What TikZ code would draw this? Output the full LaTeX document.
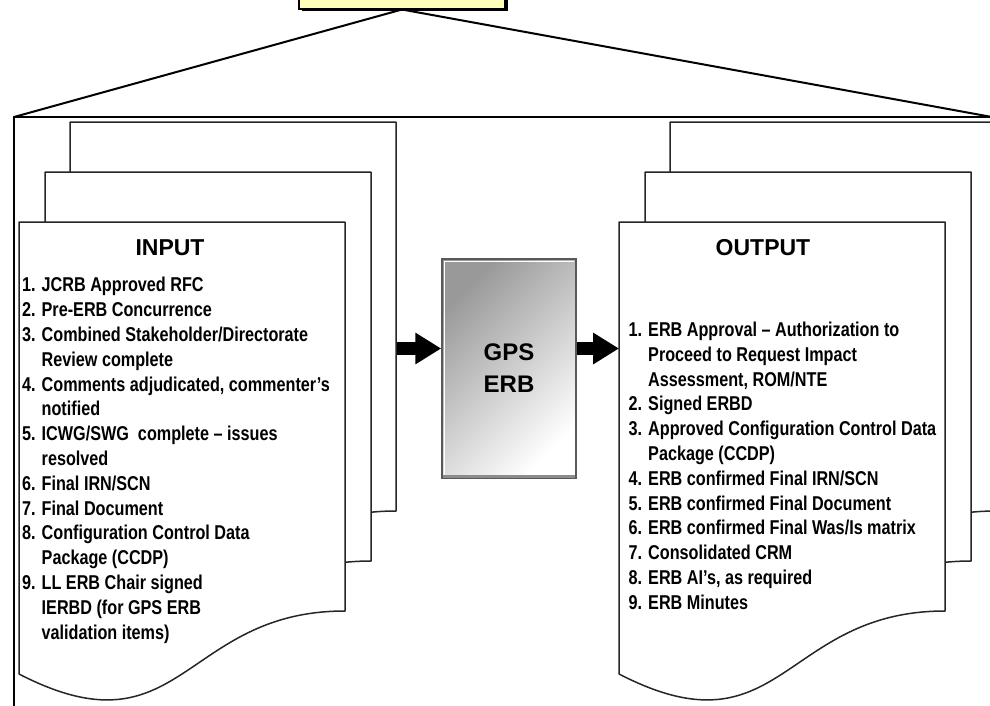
\documentclass[tikz,border=0pt]{standalone}
\usepackage{fontspec}
\setmainfont{Liberation Sans}
\newfontfamily\narrowfont[FakeStretch=0.81]{Liberation Sans}
\usetikzlibrary{positioning, arrows.meta, shadows}

\definecolor{notepale}{RGB}{255,255,187}
\newcommand{\lnum}[1]{\makebox[19.5pt][l]{#1}}
\newcommand{\lcont}{\hspace*{19.5pt}}
% one sheet with a wavy foot, #1/#2 = top left corner
\newcommand{\docpage}[2]{%
  \filldraw[pageedge] (#1,#2) -- ++(326,0) -- ++(0,389)
    .. controls +(-163,0) and +(163,84) .. ++(-326,63) -- cycle;}

\begin{document}
\begin{tikzpicture}
    [x=1pt, y=-1pt,
     pageedge/.style={draw=black!85, fill=white, line width=1.5pt, line join=round},
     frameline/.style={draw=black, line width=1.2pt},
     zoomline/.style={draw=black, line width=2pt},
     notebox/.style={draw=black, line width=2pt, fill=notepale, minimum width=206pt,
                     minimum height=33pt, inner sep=0pt,
                     drop shadow={shadow xshift=2.5pt, shadow yshift=-2.5pt, fill=black, opacity=1}},
     erbbox/.style={draw=black!65, line width=1.5pt, top color=black!40, bottom color=white,
                    shading angle=45, minimum width=134pt, minimum height=219pt, inner sep=0pt,
                    align=center, font=\bfseries\fontsize{24}{32}\selectfont},
     headtxt/.style={anchor=base, inner sep=0pt, font=\bfseries\fontsize{23}{27}\selectfont},
     itemtxt/.style={anchor=base west, inner sep=0pt,
                     font=\narrowfont\bfseries\fontsize{20}{24}\selectfont},
     bigarrow/.style={draw=black, line width=13pt, -{Triangle[length=26pt, width=30pt]}}]
    \useasboundingbox (0,0) rectangle (990,705);
    \clip (0,0) rectangle (990,705);

    \coordinate (frame-nw) at (14,117);
    \coordinate (frame-ne) at (992,117);
    \draw[frameline] (frame-nw) rectangle (1000,720);

    \node[notebox] (note) at (402,-8) {};
    \draw[zoomline] (note.south) -- (frame-nw);
    \draw[zoomline] (note.south) -- (frame-ne);

    % input stack
    \docpage{70}{122}
    \docpage{45}{172}
    \docpage{19}{222}
    % output stack
    \docpage{670}{122}
    \docpage{645}{172}
    \docpage{619}{222}

    \node[headtxt] (in-head) at (170,255) {INPUT};
    \node[headtxt] (out-head) at (763,255) {OUTPUT};

    \foreach \txt [count=\i] in {{\lnum{1.}JCRB Approved RFC},
        {\lnum{2.}Pre-ERB Concurrence},
        {\lnum{3.}Combined Stakeholder/Directorate},
        {\lcont Review complete},
        {\lnum{4.}Comments adjudicated, commenter’s},
        {\lcont notified},
        {\lnum{5.}ICWG/SWG\ \ complete – issues},
        {\lcont resolved},
        {\lnum{6.}Final IRN/SCN},
        {\lnum{7.}Final Document},
        {\lnum{8.}Configuration Control Data},
        {\lcont Package (CCDP)},
        {\lnum{9.}LL ERB Chair signed},
        {\lcont IERBD (for GPS ERB},
        {\lcont validation items)}}
        \node[itemtxt] (in-\i) at (22, 267+24.8*\i) {\txt};

    \foreach \txt [count=\i] in {{\lnum{1.}ERB Approval – Authorization to},
        {\lcont Proceed to Request Impact},
        {\lcont Assessment, ROM/NTE},
        {\lnum{2.}Signed ERBD},
        {\lnum{3.}Approved Configuration Control Data},
        {\lcont Package (CCDP)},
        {\lnum{4.}ERB confirmed Final IRN/SCN},
        {\lnum{5.}ERB confirmed Final Document},
        {\lnum{6.}ERB confirmed Final Was/Is matrix},
        {\lnum{7.}Consolidated CRM},
        {\lnum{8.}ERB AI’s, as required},
        {\lnum{9.}ERB Minutes}}
        \node[itemtxt] (out-\i) at (628.5, 311.7+24.8*\i) {\txt};

    \node[erbbox] (erb) at (509,368.5) {GPS\\ERB};
    \draw[white, line width=1pt] ([shift={(3pt,4pt)}]erb.south west)
        |- ([shift={(-3pt,-3pt)}]erb.north east);
    \draw[black!45, line width=3pt] ([shift={(2pt,2.5pt)}]erb.south west)
        -- ([shift={(-2pt,2.5pt)}]erb.south east);

    \coordinate (in-edge) at (397,348.5);
    \coordinate (out-edge) at (619,348.5);
    \draw[bigarrow] (in-edge) -- (erb.west |- in-edge);
    \draw[bigarrow] (erb.east |- in-edge) -- (out-edge);
\end{tikzpicture}
\end{document}
